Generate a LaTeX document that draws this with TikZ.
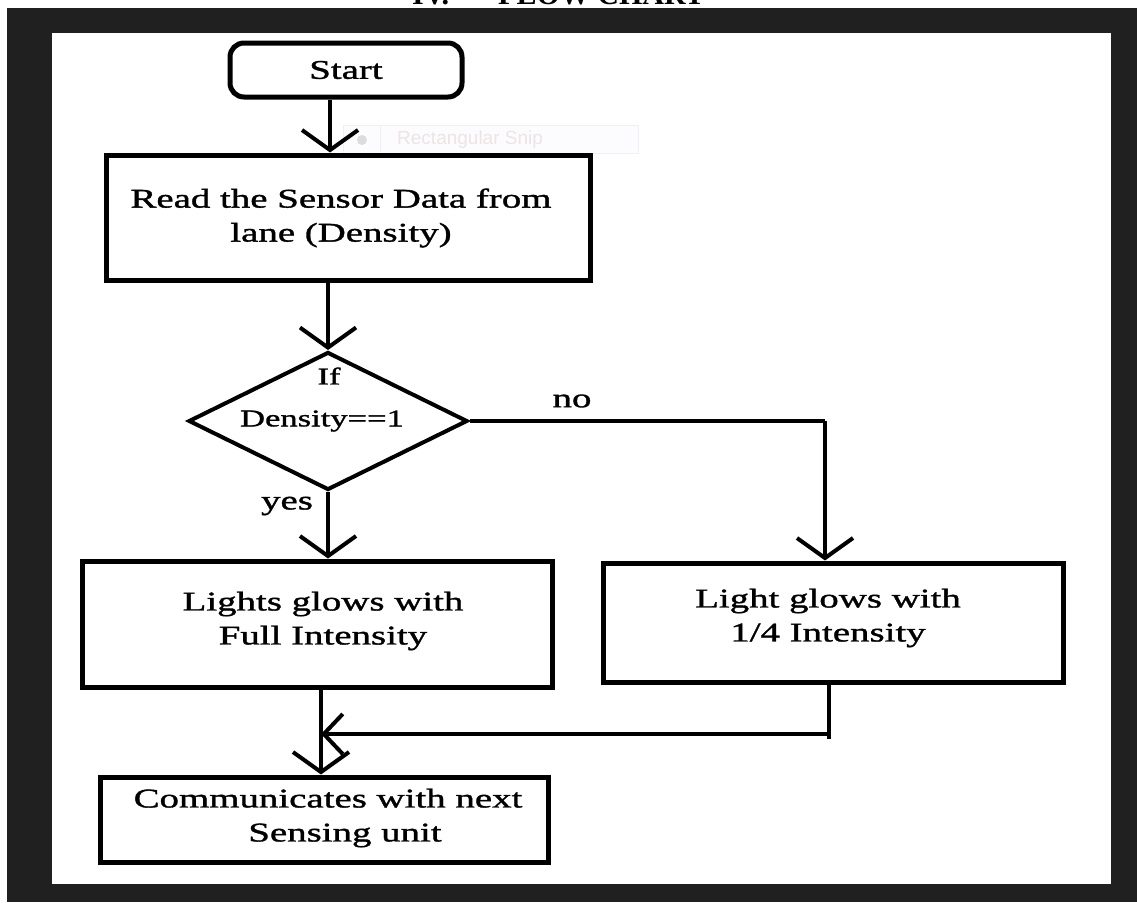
\documentclass[tikz,border=0pt]{standalone}
\usepackage{fontspec}
\setmainfont{Liberation Serif}[FakeStretch=1.44,FakeBold=1.3]
\newfontfamily\titlefont{Liberation Serif}
\newfontfamily\snipfont{Liberation Sans}
\usetikzlibrary{arrows.meta,shapes.geometric}
\definecolor{frame}{HTML}{202020}
\definecolor{snipborder}{HTML}{EEF0F6}
\definecolor{snipfill}{HTML}{FCFCFE}
\definecolor{snipdot}{HTML}{DCDCDE}
\definecolor{snipt}{HTML}{EDE4E4}
\tikzset{
  box/.style={draw, line width=5pt, rectangle, inner sep=0pt, align=center,
    font=\fontsize{27}{33}\selectfont},
  dia/.style={draw, line width=4pt, diamond, inner sep=0pt, minimum width=279pt, minimum height=138pt},
  lbl/.style={inner sep=0pt, font=\fontsize{27}{34}\selectfont},
  dlbl/.style={inner sep=0pt, font=\fontsize{24}{28}\selectfont},
  arr/.style={line width=4pt, -{Straight Barb[length=20pt,width=56pt,line width=4pt]}},
  arrn/.style={line width=4pt, -{Straight Barb[length=19pt,width=40pt,line width=4pt]}},
  ln/.style={line width=4pt},
}
\begin{document}
\begin{tikzpicture}[x=1pt,y=-1pt]
\clip (0,0) rectangle (1137,902);
\fill[white] (0,0) rectangle (1137,902);
\fill[frame] (7,8) rectangle (1137,902);
\fill[white] (52,33) rectangle (1111,884);
% title (cut off at the top)
\node[anchor=base west, inner sep=0pt, font=\titlefont\bfseries\fontsize{30}{34}\selectfont] (t1) at (412,5) {IV.};
\node[anchor=base west, inner sep=0pt, font=\titlefont\bfseries\fontsize{30}{34}\selectfont] (t2) at (498,5) {FLOW CHART};
% ghost snip overlay
\node[draw=snipborder, fill=snipfill, line width=1pt, minimum width=295pt, minimum height=28pt, inner sep=0pt] (snip) at (490.5,139) {};
\fill[snipdot] (362,140) circle (5);
\draw[snipborder, line width=1pt] (380,126) -- (380,152);
\node[anchor=west, inner sep=0pt, text=snipt, font=\snipfont\fontsize{19}{22}\selectfont] (sniptext) at (397,140) {Rectangular Snip};
% nodes
\node[box, rounded corners=14pt, minimum width=232pt, minimum height=54pt] (start) at (346,70) {Start};
\node[box, minimum width=484pt, minimum height=125pt] (read) at (348,217.5) {};
\node[lbl, align=center] (readt) at (341,218) {Read the Sensor Data from\\lane (Density)};
\node[dia] (d) at (328,421) {};
\node[dlbl] (ift) at (329,376) {If};
\node[dlbl] (dent) at (322,421) {Density==1};
\node[box, minimum width=470pt, minimum height=126pt] (full) at (317,624) {};
\node[lbl, align=center] (fullt) at (323,621) {Lights glows with\\Full Intensity};
\node[box, minimum width=460pt, minimum height=119pt] (quart) at (833,622.5) {};
\node[lbl, align=center] (quartt) at (828,618) {Light glows with\\1/4 Intensity};
\node[box, minimum width=448pt, minimum height=85pt] (comm) at (324,819.5) {};
\node[lbl, align=center] (commt) at (328,818) {Communicates with next\\\hspace*{34pt}Sensing unit};
% labels
\node[lbl] (yes) at (287,506) {yes};
\node[lbl] (no) at (572,401) {no};
% coordinates
\coordinate (a1) at (330,0);
\coordinate (nc) at (825,421);
\coordinate (a2) at (321,0);
\coordinate (rb) at (829,739);
\coordinate (j) at (321,734);
% connectors
\draw[arr] (start.south -| a1) -- (read.north -| a1);
\draw[arr] (read.south -| d.north) -- (d.north);
\draw[arr] (d.south) -- (full.north -| d.south);
\draw[ln] (d.east) -- (nc);
\draw[arr] (nc) -- (quart.north -| nc);
\draw[arr] (full.south -| a2) -- (comm.north -| a2);
\draw[ln] (quart.south -| rb) -- (rb);
\draw[arrn] (rb |- j) -- (j);
\end{tikzpicture}
\end{document}
